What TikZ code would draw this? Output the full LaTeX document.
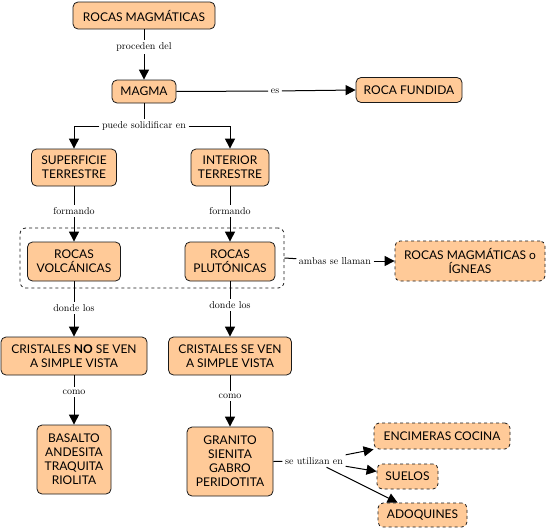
\documentclass[tikz,border=0pt]{standalone}
\usepackage{fontspec}
\newfontfamily\nodefont{Lato}
\usetikzlibrary{arrows.meta,fit}
\definecolor{peach}{RGB}{255,202,152}
\definecolor{edge}{RGB}{25,25,25}
\tikzset{
  concept/.style={draw=edge, fill=peach, rounded corners=5pt, align=center,
    font=\nodefont\fontsize{12}{14}\selectfont, inner sep=1pt, line width=0.8pt},
  dconcept/.style={concept, dashed},
  lbl/.style={font=\fontsize{10}{11}\selectfont, inner sep=2.5pt},
  arr/.style={-{Triangle[length=10pt,width=10pt]}, line width=1pt},
  ln/.style={line width=1pt},
}
\begin{document}
\begin{tikzpicture}[x=1pt,y=-1pt]
\useasboundingbox (0,0) rectangle (548,530);
% concepts
\node[concept, minimum width=142pt, minimum height=27pt] (rm) at (144,15.5) {ROCAS MAGMÁTICAS};
\node[concept, minimum width=64pt, minimum height=23pt] (magma) at (144,91.5) {MAGMA};
\node[concept, minimum width=106pt, minimum height=25pt] (rf) at (409,90) {ROCA FUNDIDA};
\node[concept, minimum width=85pt, minimum height=37pt] (sup) at (74,167.5) {SUPERFICIE\\TERRESTRE};
\node[concept, minimum width=78pt, minimum height=37pt] (int) at (230,167.5) {INTERIOR\\TERRESTRE};
\node[concept, minimum width=93pt, minimum height=39pt] (rv) at (74,261.5) {ROCAS\\VOLCÁNICAS};
\node[concept, minimum width=90pt, minimum height=39pt] (rp) at (230,261.5) {ROCAS\\PLUTÓNICAS};
\node[dconcept, minimum width=150pt, minimum height=40pt] (ig) at (470,261) {ROCAS MAGMÁTICAS o\\ÍGNEAS};
\node[concept, minimum width=146pt, minimum height=38pt] (cno) at (74,356) {CRISTALES {\bfseries NO} SE VEN\\A SIMPLE VISTA};
\node[concept, minimum width=123pt, minimum height=38pt] (csi) at (230,356) {CRISTALES SE VEN\\A SIMPLE VISTA};
\node[concept, minimum width=74pt, minimum height=69pt] (bas) at (74,459.5) {BASALTO\\ANDESITA\\TRAQUITA\\RIOLITA};
\node[concept, minimum width=86pt, minimum height=69pt] (gra) at (230,461.5) {GRANITO\\SIENITA\\GABRO\\PERIDOTITA};
\node[dconcept, minimum width=136pt, minimum height=26pt] (enc) at (442,436) {ENCIMERAS COCINA};
\node[dconcept, minimum width=61pt, minimum height=25pt] (sue) at (407.5,476.5) {SUELOS};
\node[dconcept, minimum width=89pt, minimum height=24pt] (ado) at (422.5,515) {ADOQUINES};
% group
\coordinate (g1) at (20,228);
\coordinate (g2) at (284,288);
\node[draw=edge, dashed, rounded corners=6pt, line width=0.8pt, inner sep=0pt, fit=(g1)(g2)] (grp) {};
% labels
\node[lbl] (l1) at (144,47) {proceden del};
\node[lbl] (l2) at (275,91) {es};
\node[lbl] (l3) at (144,126) {puede solidificar en};
\node[lbl] (l4) at (74,211) {formando};
\node[lbl] (l5) at (230,211) {formando};
\node[lbl] (l6) at (335,261) {ambas se llaman};
\node[lbl] (l7) at (74,308) {donde los};
\node[lbl] (l8) at (230,305) {donde los};
\node[lbl] (l9) at (74,392) {como};
\node[lbl] (l10) at (230,396) {como};
\node[lbl] (l11) at (314,461) {se utilizan en};
% connectors
\draw[ln] (rm) -- (l1); \draw[arr] (l1) -- (magma);
\draw[ln] (magma.east) -- (l2); \draw[arr] (l2) -- (rf.west);
\draw[ln] (magma) -- (l3);
\draw[arr] (l3.west) -| (sup.north);
\draw[arr] (l3.east) -| (int.north);
\draw[ln] (sup) -- (l4); \draw[arr] (l4) -- (rv);
\draw[ln] (int) -- (l5); \draw[arr] (l5) -- (rp);
\draw[ln] (grp.east) -- (l6); \draw[arr] (l6) -- (ig.west);
\draw[ln] (rv) -- (l7); \draw[arr] (l7) -- (cno);
\draw[ln] (rp) -- (l8); \draw[arr] (l8) -- (csi);
\draw[ln] (cno) -- (l9); \draw[arr] (l9) -- (bas);
\draw[ln] (csi) -- (l10); \draw[arr] (l10) -- (gra);
\draw[ln] (gra.east) -- (l11);
\draw[arr] (l11) -- (enc);
\draw[arr] (l11) -- (sue);
\draw[arr] (l11) -- (ado);
\end{tikzpicture}
\end{document}
